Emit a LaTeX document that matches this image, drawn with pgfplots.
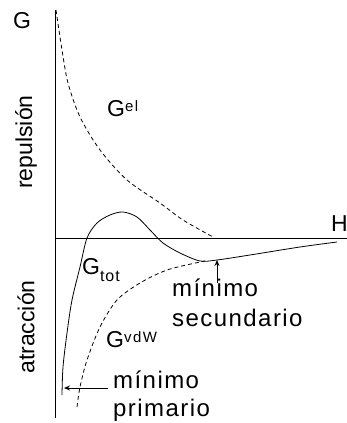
\documentclass[border=0pt]{standalone}
\usepackage{pgfplots}
\pgfplotsset{compat=1.18}
\usepackage{fontspec}
\setmainfont{Liberation Sans}
\newfontfamily\spaced[LetterSpace=6]{Liberation Sans}
\usetikzlibrary{arrows.meta}
\tikzset{
  lbl/.style={font=\fontsize{23}{26}\selectfont, inner sep=0pt, anchor=base west},
  note/.style={font=\spaced\fontsize{24}{27}\selectfont, inner sep=0pt, anchor=base west}
}
\newcommand{\sups}[1]{\raisebox{5pt}{\spaced\fontsize{15}{17}\selectfont\addfontfeatures{LetterSpace=10}#1}}
\newcommand{\subs}[1]{\raisebox{-7pt}{\spaced\fontsize{16}{18}\selectfont #1}}
\begin{document}
\begin{tikzpicture}
\begin{axis}[
  scale only axis, width=347pt, height=423pt,
  xmin=0, xmax=347, ymin=0, ymax=423,
  hide axis, clip=false,
  every axis plot/.append style={black, line width=0.8pt},
]
% axes of the sketch
\addplot[line width=0.9pt] coordinates {(55,5) (55,413)};
\addplot[line width=0.9pt] coordinates {(55,185) (347,185)};
% G_el
\addplot[dashed, dash pattern=on 4pt off 3pt, smooth] coordinates {
  (56,413) (62,373) (68,340) (80,306) (100,273) (127,243) (160,220) (183,203) (213,186)
};
% G_vdW
\addplot[dashed, dash pattern=on 4pt off 3pt, smooth] coordinates {
  (77,16) (80,36) (87,63) (100,96) (117,123) (140,140) (167,153) (200,161) (205,162)
};
% G_tot
\addplot[smooth, tension=0.5] coordinates {
  (62,28) (63,56) (67,90) (72,123) (80,156) (87,185) (97,200) (110,208) (123,211)
  (137,206) (150,193) (163,180) (180,170) (200,162) (217,163) (250,168) (300,176) (337,181)
};
% arrows
\draw[-{Stealth[length=6pt,width=5pt]}, line width=0.8pt] (axis cs:217,140) -- (axis cs:217,163);
\draw[-{Stealth[length=6pt,width=5pt]}, line width=0.8pt] (axis cs:108,35) -- (axis cs:64,35);
% labels
\node[lbl] at (axis cs:13,394) {G};
\node[lbl] at (axis cs:331,191) {H};
\node[lbl, rotate=90, anchor=center] at (axis cs:26,281) {repulsión};
\node[lbl, rotate=90, anchor=center] at (axis cs:26,96) {atracción};
\node[lbl] at (axis cs:107,306) {G\sups{el}};
\node[lbl] at (axis cs:106,75) {G\sups{vdW}};
\node[lbl] at (axis cs:82,148) {G\subs{tot}};
\node[note] at (axis cs:172,126) {mínimo};
\node[note] at (axis cs:172,96) {secundario};
\node[note] at (axis cs:113,34) {mínimo};
\node[note] at (axis cs:113,6) {primario};
\end{axis}
\pgfresetboundingbox
\path (current axis.south west) rectangle (current axis.north east);
\end{tikzpicture}
\end{document}
